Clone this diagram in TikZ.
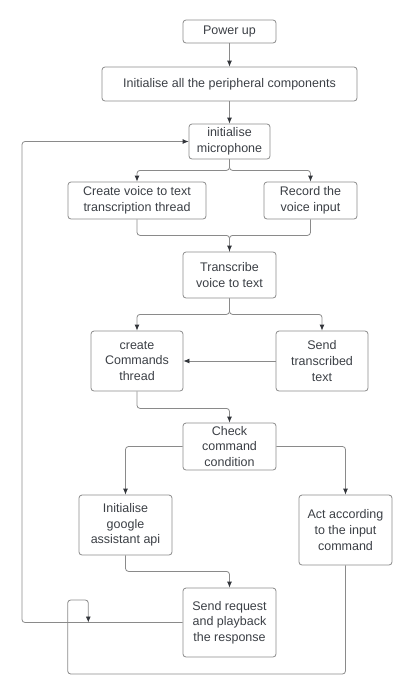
\documentclass[tikz,border=0pt]{standalone}
\usepackage{fontspec}
\setmainfont{Liberation Sans}
\usetikzlibrary{arrows.meta}
\definecolor{linegray}{HTML}{8A8A8A}
\definecolor{tipdark}{HTML}{33363B}
\definecolor{textdark}{HTML}{3B3F45}

\begin{document}
\begin{tikzpicture}[x=1pt, y=-1pt,
    box/.style={draw=linegray, line width=0.8pt, rounded corners=3pt, align=center, inner sep=0pt,
        text=textdark, font=\fontsize{12.5}{15.7}\selectfont},
    link/.style={draw=linegray, line width=0.8pt, rounded corners=3pt},
    >={Latex[length=6pt, width=5pt, color=tipdark]}]
        \useasboundingbox (0,0) rectangle (415,697);
        % Nodes
        \node (power) [box, minimum width=93, minimum height=23] at (229.5,31.5) {Power up};
        \node (periph) [box, minimum width=255, minimum height=34] at (229.5,84) {Initialise all the peripheral components};
        \node (mic) [box, minimum width=81, minimum height=35] at (229.5,141.5) {initialise\\microphone};
        \node (thread) [box, minimum width=138, minimum height=37] at (137,200.5) {Create voice to text\\transcription thread};
        \node (record) [box, minimum width=93, minimum height=37] at (310.5,200.5) {Record the\\voice input};
        \node (transcribe) [box, minimum width=93, minimum height=46] at (229.5,275) {Transcribe\\voice to text};
        \node (commands) [box, minimum width=92, minimum height=60] at (137,361) {create\\Commands\\thread};
        \node (sendtext) [box, minimum width=92, minimum height=60] at (322,361) {Send\\transcribed\\text};
        \node (check) [box, minimum width=93, minimum height=47] at (229.5,446.5) {Check\\command\\condition};
        \node (google) [box, minimum width=93, minimum height=60] at (125.5,525) {Initialise\\google\\assistant api};
        \node (act) [box, minimum width=93, minimum height=70] at (345.5,530) {Act according\\to the input\\command};
        \node (request) [box, minimum width=93, minimum height=69] at (229.5,622.5) {Send request\\and playback\\the response};
        \coordinate (loopleft) at (22,622.5);
        \coordinate (join) at (88.3,622.5);

        % Edges
        \draw[link, ->] (power) -- (periph);
        \draw[link, ->] (periph) -- (mic);
        \draw[link, ->] (mic.south) -- ++(0,11) -| (thread.north);
        \draw[link, ->] (mic.south) -- ++(0,11) -| (record.north);
        \draw[link] (thread.south) -- ++(0,16) -| (transcribe.north);
        \draw[link, ->] (record.south) -- ++(0,16) -| (transcribe.north);
        \draw[link, ->] (transcribe.south) -- ++(0,16) -| (commands.north);
        \draw[link, ->] (transcribe.south) -- ++(0,16) -| (sendtext.north);
        \draw[link, ->] (sendtext) -- (commands);
        \draw[link, ->] (commands.south) -- ++(0,17) -| (check.north);
        \draw[link, ->] (check.west) -| (google.north);
        \draw[link, ->] (check.east) -| (act.north);
        \draw[link, ->] (google.south) -- ++(0,16) -| (request.north);
        \draw[link, ->] (request.west) -- (loopleft) |- (mic.west);
        \draw[link, ->] (act.south) |- (67.7,674) |- (88.3,600) -- (join);
    \end{tikzpicture}
\end{document}
